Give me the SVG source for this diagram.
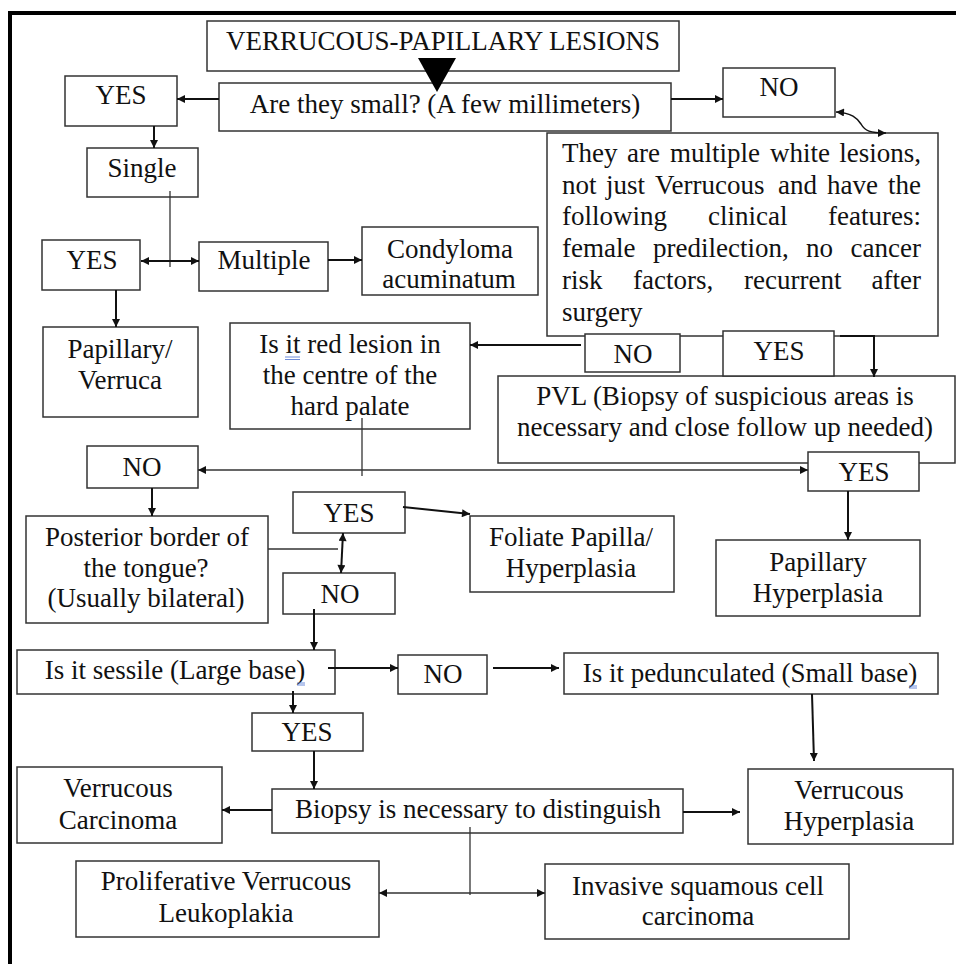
<svg xmlns="http://www.w3.org/2000/svg" width="956" height="964" viewBox="0 0 956 964">
<style>
text{font-family:"Liberation Serif","Times New Roman",serif;font-size:27px;fill:#111;text-anchor:middle}
.l{text-anchor:start}
.e{text-anchor:end}
rect{fill:#fff;stroke:#333;stroke-width:1.5}
.c{fill:none;stroke:#111;stroke-width:2}
.t{fill:none;stroke:#333;stroke-width:1.3}
.u{stroke:#4a6fd0;stroke-width:0.8;fill:none}
</style>
<defs>
<marker id="a" viewBox="0 0 10 10" refX="10" refY="5" markerWidth="9" markerHeight="8" markerUnits="userSpaceOnUse" orient="auto-start-reverse">
<path d="M0,0 L10,5 L0,10 z" fill="#111"/>
</marker>
</defs>
<rect x="0" y="0" width="956" height="964" style="fill:#fff;stroke:none"/>
<g id="frame">
<line x1="8" y1="13" x2="956" y2="13" stroke="#000" stroke-width="4"/>
<line x1="10" y1="11" x2="10" y2="964" stroke="#000" stroke-width="4"/>
</g>
<g id="title"><rect x="207" y="21" width="472" height="50"/><text x="443" y="50">VERRUCOUS-PAPILLARY LESIONS</text></g>
<g id="q-small"><rect x="219" y="83" width="452" height="48"/><text x="445" y="113">Are they small? (A few millimeters)</text></g>
<g id="yes1"><rect x="65" y="76" width="112" height="50"/><text x="121" y="104">YES</text></g>
<g id="no1"><rect x="723" y="68" width="112" height="49"/><text x="779" y="96">NO</text></g>
<g id="single"><rect x="87" y="148" width="111" height="49"/><text x="142" y="177">Single</text></g>
<g id="yes2"><rect x="42" y="240" width="98" height="50"/><text x="92" y="269">YES</text></g>
<g id="multiple"><rect x="199" y="242" width="129" height="49"/><text x="264" y="269">Multiple</text></g>
<g id="condyloma"><rect x="362" y="227" width="176" height="68"/><text x="450" y="258">Condyloma</text><text x="449" y="288">acuminatum</text></g>
<g id="papillary-verruca"><rect x="43" y="327" width="155" height="90"/><text x="120" y="358">Papillary/</text><text x="120" y="389">Verruca</text></g>
<g id="multiple-white"><rect x="547" y="133" width="391" height="203"/>
<text class="l" x="562" y="162">They</text><text class="l" x="627" y="162">are</text><text class="l" x="670" y="162">multiple</text><text class="l" x="770" y="162">white</text><text class="e" x="921" y="162">lesions,</text>
<text class="l" x="562" y="194">not</text><text class="l" x="606" y="194">just</text><text class="l" x="655" y="194">Verrucous</text><text class="l" x="778" y="194">and</text><text class="l" x="827" y="194">have</text><text class="e" x="921" y="194">the</text>
<text class="l" x="562" y="225">following</text><text class="l" x="708" y="225">clinical</text><text class="e" x="921" y="225">features:</text>
<text class="l" x="562" y="257">female</text><text class="l" x="653" y="257">predilection,</text><text class="l" x="806" y="257">no</text><text class="e" x="921" y="257">cancer</text>
<text class="l" x="562" y="289">risk</text><text class="l" x="633" y="289">factors,</text><text class="l" x="744" y="289">recurrent</text><text class="e" x="921" y="289">after</text>
<text class="l" x="562" y="321">surgery</text>
</g>
<g id="red-lesion"><rect x="230" y="323" width="240" height="106"/><text x="350" y="353">Is it red lesion in</text><text x="350" y="384">the centre of the</text><text x="350" y="415">hard palate</text>
<path class="u" d="M285,357 H300 M285,359.5 H300"/></g>
<g id="pvl"><rect x="498" y="376" width="457" height="87"/><text x="725" y="405">PVL (Biopsy of suspicious areas is</text><text x="725" y="436">necessary and close follow up needed)</text></g>
<g id="no2"><rect x="585" y="334" width="95" height="38"/><text x="633" y="363">NO</text></g>
<g id="yes3"><rect x="723" y="331" width="111" height="45"/><text x="779" y="360">YES</text></g>
<g id="yes4"><rect x="808" y="452" width="111" height="39"/><text x="864" y="481">YES</text></g>
<g id="no3"><rect x="87" y="446" width="111" height="42"/><text x="142" y="476">NO</text></g>
<g id="papillary-hyperplasia"><rect x="716" y="540" width="204" height="76"/><text x="818" y="571">Papillary</text><text x="818" y="602">Hyperplasia</text></g>
<g id="yes5"><rect x="293" y="492" width="112" height="41"/><text x="349" y="522">YES</text></g>
<g id="foliate"><rect x="470" y="516" width="204" height="76"/><text x="571" y="546">Foliate Papilla/</text><text x="571" y="577">Hyperplasia</text></g>
<g id="posterior"><rect x="26" y="516" width="242" height="107"/><text x="147" y="546">Posterior border of</text><text x="146" y="577">the tongue?</text><text x="146" y="607">(Usually bilateral)</text></g>
<g id="no4"><rect x="283" y="573" width="112" height="41"/><text x="340" y="603">NO</text></g>
<g id="sessile"><rect x="17" y="650" width="318" height="44"/><text x="175" y="679">Is it sessile (Large base)</text><path class="u" d="M297,683 H305 M297,685 H305"/></g>
<g id="no5"><rect x="398" y="655" width="89" height="39"/><text x="443" y="683">NO</text></g>
<g id="pedunculated"><rect x="564" y="653" width="374" height="41"/><text x="750" y="682">Is it pedunculated (Small base)</text><path class="u" d="M909,686 H917 M909,688 H917"/></g>
<g id="yes6"><rect x="252" y="713" width="111" height="38"/><text x="307" y="741">YES</text></g>
<g id="biopsy"><rect x="272" y="789" width="411" height="44"/><text x="478" y="818">Biopsy is necessary to distinguish</text></g>
<g id="verrucous-carcinoma"><rect x="17" y="767" width="205" height="76"/><text x="118" y="797">Verrucous</text><text x="118" y="829">Carcinoma</text></g>
<g id="verrucous-hyperplasia"><rect x="748" y="769" width="205" height="75"/><text x="849" y="799">Verrucous</text><text x="849" y="830">Hyperplasia</text></g>
<g id="pvl-full"><rect x="76" y="861" width="303" height="76"/><text x="226" y="890">Proliferative Verrucous</text><text x="226" y="922">Leukoplakia</text></g>
<g id="invasive-scc"><rect x="545" y="864" width="304" height="75"/><text x="698" y="895">Invasive squamous cell</text><text x="698" y="925">carcinoma</text></g>
<g id="connectors">
<polygon points="418,58 456,58 437,92" fill="#000"/>
<line class="c" x1="219" y1="99" x2="177" y2="99" marker-end="url(#a)"/>
<line class="c" x1="671" y1="99" x2="723" y2="99" marker-end="url(#a)"/>
<line class="c" x1="154" y1="126" x2="154" y2="148" marker-end="url(#a)"/>
<line class="t" x1="170" y1="191" x2="170" y2="267"/>
<line class="c" x1="141" y1="261" x2="199" y2="261" marker-start="url(#a)" marker-end="url(#a)"/>
<line class="c" x1="328" y1="260" x2="362" y2="260" marker-end="url(#a)"/>
<line class="c" x1="116" y1="290" x2="116" y2="327" marker-end="url(#a)"/>
<path class="c" style="stroke-width:1.5" d="M836,112 C852,113 857,118 861,124 C865,131 870,133 886,133" marker-start="url(#a)" marker-end="url(#a)"/>
<line class="c" x1="581" y1="345" x2="470" y2="345" marker-end="url(#a)"/>
<polyline class="c" points="840,336 874,336 874,377" marker-end="url(#a)"/>
<line class="t" x1="362" y1="418" x2="362" y2="476"/>
<line class="t" x1="198" y1="470" x2="808" y2="470" marker-start="url(#a)" marker-end="url(#a)"/>
<line class="c" x1="848" y1="491" x2="848" y2="540" marker-end="url(#a)"/>
<line class="c" x1="152" y1="488" x2="152" y2="516" marker-end="url(#a)"/>
<line class="c" x1="403" y1="507" x2="470" y2="514" marker-end="url(#a)"/>
<line class="t" x1="268" y1="549" x2="338" y2="549"/>
<line class="c" x1="343" y1="533" x2="341" y2="573" marker-start="url(#a)" marker-end="url(#a)"/>
<line class="c" x1="314" y1="609" x2="314" y2="650" marker-end="url(#a)"/>
<line class="c" x1="328" y1="668" x2="398" y2="668" marker-end="url(#a)"/>
<line class="c" x1="493" y1="668" x2="559" y2="668" marker-end="url(#a)"/>
<line class="c" x1="293" y1="691" x2="293" y2="713" marker-end="url(#a)"/>
<line class="c" x1="314" y1="751" x2="314" y2="789" marker-end="url(#a)"/>
<line class="c" x1="272" y1="810" x2="222" y2="810" marker-end="url(#a)"/>
<line class="c" x1="683" y1="812" x2="740" y2="812" marker-end="url(#a)"/>
<line class="c" x1="812" y1="694" x2="814" y2="761" marker-end="url(#a)"/>
<line class="t" x1="470" y1="827" x2="470" y2="895"/>
<line class="t" x1="379" y1="893" x2="545" y2="893" marker-start="url(#a)" marker-end="url(#a)"/>
</g>
</svg>
